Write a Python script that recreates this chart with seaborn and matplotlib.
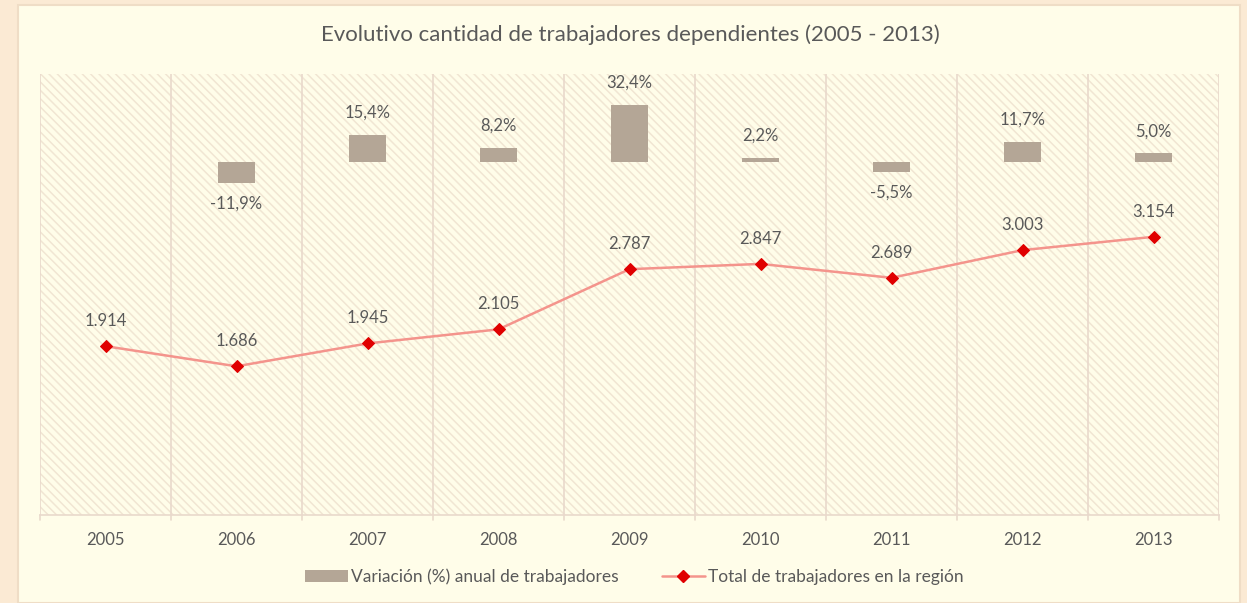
import matplotlib
matplotlib.use("Agg")
import matplotlib.pyplot as plt
import seaborn as sns
import numpy as np
import pandas as pd
from matplotlib.patches import Rectangle, Patch
from matplotlib.lines import Line2D

years = ["2005", "2006", "2007", "2008", "2009", "2010", "2011", "2012", "2013"]
variacion = [np.nan, -11.9, 15.4, 8.2, 32.4, 2.2, -5.5, 11.7, 5.0]  # %
totales = [1914, 1686, 1945, 2105, 2787, 2847, 2689, 3003, 3154]
var_labels = ["", "-11,9%", "15,4%", "8,2%", "32,4%", "2,2%", "-5,5%", "11,7%", "5,0%"]
tot_labels = ["1.914", "1.686", "1.945", "2.105", "2.787", "2.847", "2.689", "3.003", "3.154"]

sns.set_theme(style="white")
plt.rcParams['font.family'] = ['Lato', 'DejaVu Sans']
plt.rcParams['hatch.linewidth'] = 1.1

txt = "#595959"
grid_c = "#E9D9CC"
bar_c = "#B4A696"
line_c = "#F4948C"
mark_c = "#E00000"

fig = plt.figure(figsize=(12.47, 6.03), dpi=100)
fig.patch.set_facecolor("#FBEAD4")
# inner chart panel
fig.patches.append(Rectangle((18 / 1247, 0), 1222 / 1247, 598 / 603, transform=fig.transFigure,
                             facecolor="#FFFDE9", edgecolor="#EFDDC6", lw=1.5, zorder=0))

ax = fig.add_axes([40 / 1247, 1 - 515 / 603, 1179 / 1247, 441 / 603])
ax.set_facecolor("none")
ax.set_zorder(1)

# hatched plot background
ax.add_patch(Rectangle((0, 0), 1, 1, transform=ax.transAxes, facecolor="#FFFDE9",
                       edgecolor="#F1E6D3", hatch="\\\\\\\\", lw=0, zorder=0))

df = pd.DataFrame({"year": years, "var": variacion})
sns.barplot(data=df, x="year", y="var", ax=ax, color=bar_c, width=0.29, saturation=1,
            linewidth=0, zorder=3)
ax.set_ylim(-200, 50)
ax.set_xlim(-0.5, 8.5)

for i, v in enumerate(variacion):
    if np.isnan(v):
        continue
    off = 16 if v >= 0 else -15
    ax.annotate(var_labels[i], (i, v), xytext=(0, off), textcoords="offset points",
                ha="center", va="center", fontsize=12, color=txt)

# vertical gridlines at category boundaries
for b in [x + 0.5 for x in range(-1, 9)]:
    ax.axvline(b, color=grid_c, lw=1.2, zorder=1)

ax2 = ax.twinx()
ax2.set_facecolor("none")
sns.lineplot(x=list(range(len(years))), y=totales, ax=ax2, color=line_c, lw=1.8,
             marker="D", markersize=6, markerfacecolor=mark_c, markeredgecolor=mark_c, zorder=5)
ax2.set_ylim(0, 5000)
ax2.set_xlim(-0.5, 8.5)
for i, v in enumerate(totales):
    ax2.annotate(tot_labels[i], (i, v), xytext=(0, 18), textcoords="offset points",
                 ha="center", va="center", fontsize=12, color=txt)

for a in (ax, ax2):
    a.set_yticks([])
    a.set_ylabel("")
    a.set_xlabel("")
    for s in a.spines.values():
        s.set_visible(False)

ax.spines["bottom"].set_visible(True)
ax.spines["bottom"].set_color(grid_c)
ax.spines["bottom"].set_linewidth(1.2)
ax.set_xticks(range(len(years)))
ax.set_xticklabels(years, fontsize=12, color=txt)
ax.tick_params(axis="x", length=0, pad=12)
# boundary tick marks below axis
for b in [x + 0.5 for x in range(-1, 9)]:
    ax.plot([b, b], [0, -0.012], transform=ax.get_xaxis_transform(), color=grid_c,
            lw=1.2, clip_on=False, zorder=1)

fig.text(630 / 1247, 1 - 35 / 603, "Evolutivo cantidad de trabajadores dependientes (2005 - 2013)",
         ha="center", va="center", fontsize=16, color=txt)

handles = [Patch(facecolor=bar_c, edgecolor="none"),
           Line2D([0], [0], color=line_c, lw=1.8, marker="D", markersize=6,
                  markerfacecolor=mark_c, markeredgecolor=mark_c)]
fig.legend(handles, ["Variación (%) anual de trabajadores", "Total de trabajadores en la región"],
           loc="center", bbox_to_anchor=(634 / 1247, 1 - 577 / 603), ncol=2, frameon=False,
           fontsize=12.5, labelcolor=txt, handlelength=2.5, handletextpad=0.15, columnspacing=2.5)

fig.savefig("out.png", dpi=100, facecolor=fig.get_facecolor())
